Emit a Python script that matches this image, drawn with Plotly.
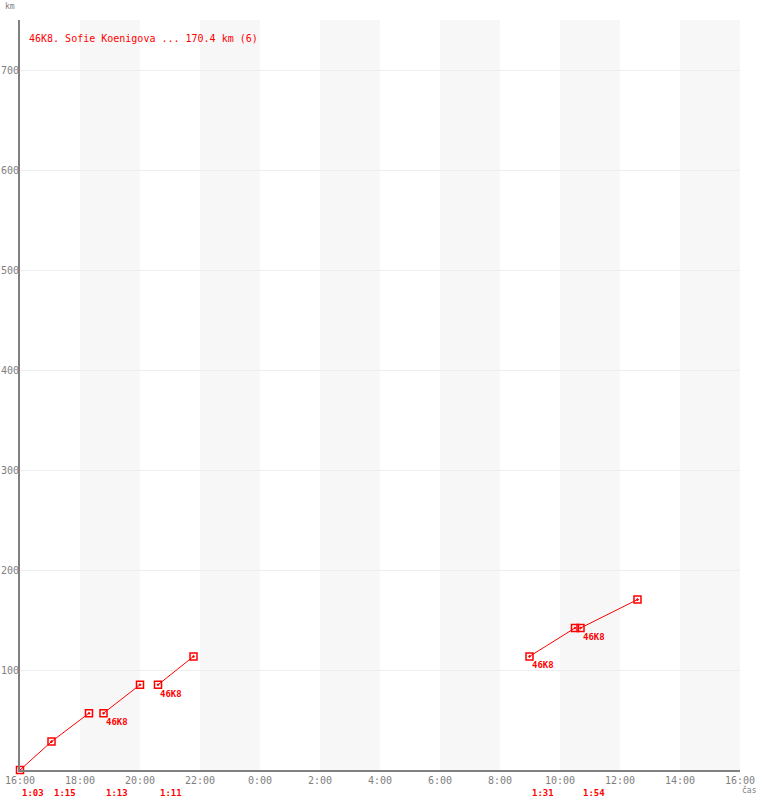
import plotly.graph_objects as go

DAY = "2023-01-01"
NEXT = "2023-01-02"

# Segments (each a continuous line), times and km
seg_times = [
    [f"{DAY} 16:00", f"{DAY} 17:03", f"{DAY} 18:18"],
    [f"{DAY} 18:47", f"{DAY} 20:00"],
    [f"{DAY} 20:36", f"{DAY} 21:47"],
    [f"{NEXT} 08:59", f"{NEXT} 10:30"],
    [f"{NEXT} 10:41", f"{NEXT} 12:35"],
]
seg_km = [
    [0, 28.4, 56.8],
    [56.8, 85.2],
    [85.2, 113.6],
    [113.6, 142.0],
    [142.0, 170.4],
]
seg_label = ["", "46K8", "46K8", "46K8", "46K8"]

leg_start = [f"{DAY} 16:00", f"{DAY} 17:03", f"{DAY} 18:47", f"{DAY} 20:36",
             f"{NEXT} 08:59", f"{NEXT} 10:41"]
leg_duration = ["1:03", "1:15", "1:13", "1:11", "1:31", "1:54"]

band_start = [f"{DAY} 18:00", f"{DAY} 22:00", f"{NEXT} 02:00", f"{NEXT} 06:00",
              f"{NEXT} 10:00", f"{NEXT} 14:00"]
band_end = [f"{DAY} 20:00", f"{NEXT} 00:00", f"{NEXT} 04:00", f"{NEXT} 08:00",
            f"{NEXT} 12:00", f"{NEXT} 16:00"]

y_ticks = [100, 200, 300, 400, 500, 600, 700]
title_text = "46K8. Sofie Koenigova ... 170.4 km (6)"

RED = "#ff0000"
GREY = "#808080"
FONT = "DejaVu Sans Mono"

fig = go.Figure()

for t, k in zip(seg_times, seg_km):
    fig.add_trace(go.Scatter(
        x=t, y=k, mode="lines+markers",
        line=dict(color=RED, width=1),
        marker=dict(symbol="square-open-dot", size=7, color=RED,
                    line=dict(color=RED, width=1.5)),
        hoverinfo="skip", showlegend=False, cliponaxis=False,
    ))

shapes = []
for s, e in zip(band_start, band_end):
    shapes.append(dict(type="rect", xref="x", yref="paper", x0=s, x1=e, y0=0, y1=1,
                       fillcolor="#f7f7f7", line=dict(width=0), layer="below"))

annotations = []
for t, k, lab in zip(seg_times, seg_km, seg_label):
    if lab:
        annotations.append(dict(x=t[0], y=k[0], xref="x", yref="y", text=f"<b>{lab}</b>",
                                showarrow=False, xanchor="left", yanchor="top",
                                xshift=0, yshift=-2,
                                font=dict(family=FONT, size=9, color=RED)))
for s, d in zip(leg_start, leg_duration):
    annotations.append(dict(x=s, y=0, xref="x", yref="paper", text=f"<b>{d}</b>",
                            showarrow=False, xanchor="left", yanchor="middle",
                            xshift=0, yshift=-23,
                            font=dict(family=FONT, size=9, color=RED)))
annotations.append(dict(x=0, y=1, xref="paper", yref="paper", text=title_text,
                        showarrow=False, xanchor="left", yanchor="middle",
                        xshift=7, yshift=-18,
                        font=dict(family=FONT, size=10, color=RED)))
annotations.append(dict(x=0, y=1, xref="paper", yref="paper", text="km",
                        showarrow=False, xanchor="left", yanchor="middle",
                        xshift=-17, yshift=14,
                        font=dict(family=FONT, size=8, color=GREY)))
annotations.append(dict(x=1, y=0, xref="paper", yref="paper", text="čas",
                        showarrow=False, xanchor="left", yanchor="middle",
                        xshift=0, yshift=-20,
                        font=dict(family=FONT, size=8, color=GREY)))

fig.update_layout(
    width=760, height=800,
    margin=dict(l=20, r=20, t=20, b=30, autoexpand=False),
    paper_bgcolor="white", plot_bgcolor="white",
    shapes=shapes, annotations=annotations,
    font=dict(family=FONT, size=10, color=GREY),
    xaxis=dict(
        type="date", range=[f"{DAY} 16:00", f"{NEXT} 16:00"],
        dtick=2 * 3600 * 1000, tick0=f"{DAY} 16:00", tickformat="%-H:%M",
        showgrid=False, showline=True, linecolor=GREY, linewidth=2,
        ticks="", tickfont=dict(family=FONT, size=10, color=GREY),
        zeroline=False, automargin=False,
    ),
    yaxis=dict(
        range=[0, 750], tickvals=y_ticks,
        showgrid=True, gridcolor="#eeeeee", gridwidth=1,
        showline=True, linecolor=GREY, linewidth=2, ticks="",
        tickfont=dict(family=FONT, size=10, color=GREY),
        zeroline=False, automargin=False, ticklabelstandoff=-3,
    ),
)

fig.write_html("out.html", config={"displayModeBar": False},
               post_script="document.body.style.margin='0px';")
